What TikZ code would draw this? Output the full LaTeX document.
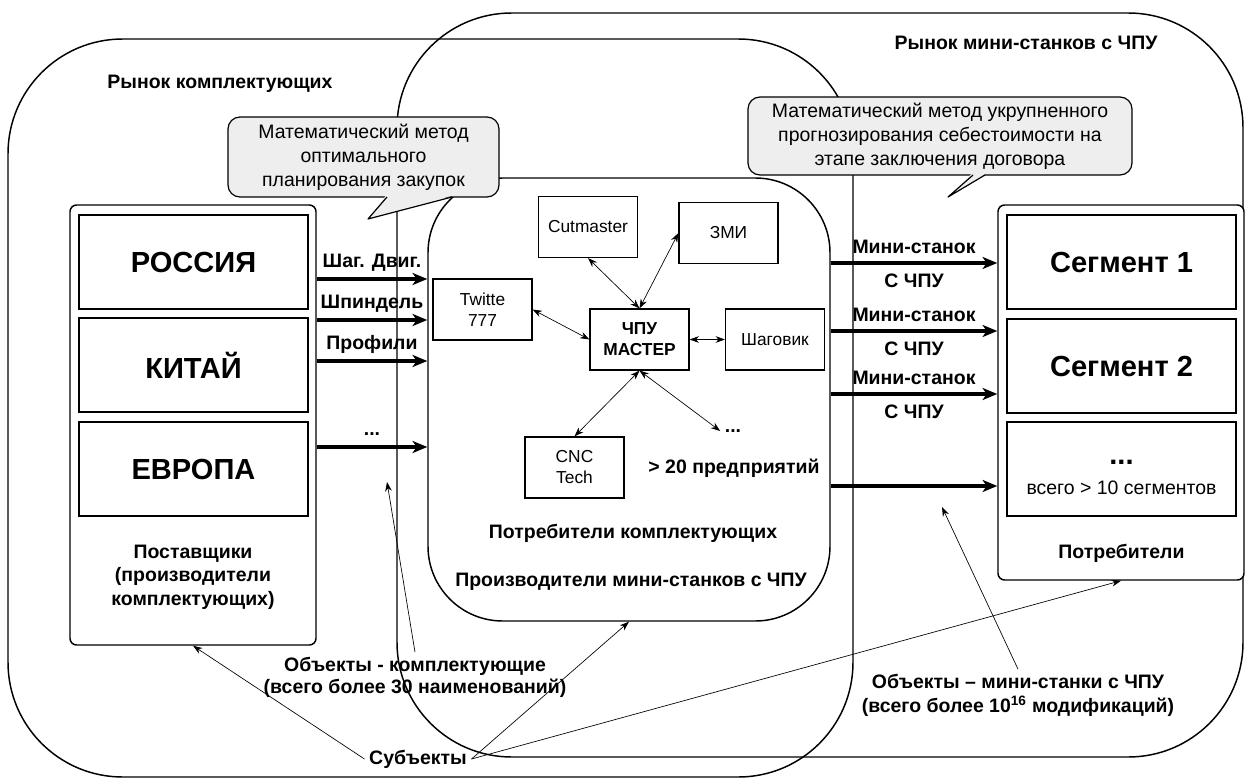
\documentclass[tikz,border=0pt]{standalone}
\usepackage{fontspec}
\setmainfont{Liberation Sans}
\usetikzlibrary{arrows.meta,positioning,calc}

\definecolor{calloutgray}{RGB}{238,238,238}

\begin{document}
\begin{tikzpicture}[x=0.75pt, y=-0.75pt,
    frame/.style={line width=1.1pt},
    panel/.style={draw, line width=1.1pt, rounded corners=5pt, fill=white},
    cell/.style={draw, line width=1.1pt, fill=white, minimum width=171.75pt, minimum height=70.5pt, font=\bfseries\fontsize{21.8}{25}\selectfont},
    firm/.style={draw, line width=0.9pt, fill=white, minimum width=74.25pt, minimum height=45.75pt, align=center, font=\fontsize{13}{15.75}\selectfont},
    lbl/.style={font=\bfseries\fontsize{14.6}{17.5}\selectfont, align=center},
    callout/.style={draw, line width=0.9pt, fill=calloutgray, rounded corners=9pt, align=center, font=\fontsize{14.6}{18}\selectfont, inner sep=0pt},
    flow/.style={line width=3pt, -{Stealth[length=11pt, width=9pt, inset=3pt]}},
    link/.style={line width=0.5pt, {Stealth[length=7pt, width=5pt]}-{Stealth[length=7pt, width=5pt]}},
    pointer/.style={line width=0.5pt, -{Stealth[length=7pt, width=5pt]}}]

    \useasboundingbox (0,0) rectangle (1246,778);

    % Markets
    \draw[frame, rounded corners=86pt] (8,39) rectangle (853,777);
    \draw[frame, rounded corners=86pt] (397,13) rectangle (1243,757);
    \node[lbl] (rkom) at (220,84) {Рынок комплектующих};
    \node[lbl] (rstan) at (1026,43) {Рынок мини-станков с ЧПУ};

    % Producers
    \node[draw, frame, rounded corners=56pt, minimum width=301.5pt, minimum height=332.25pt] (prod) at (629,399.5) {};

    % Suppliers
    \node[panel, minimum width=184.5pt, minimum height=330pt] (post) at (193,425) {};
    \node[cell] (rus) at (193.5,262) {РОССИЯ};
    \node[cell] (chn) at (193.5,365) {КИТАЙ};
    \node[cell] (eur) at (193.5,469) {ЕВРОПА};
    \node[lbl, font=\bfseries\fontsize{14.6}{17.6}\selectfont] (postlbl) at (193,577) {Поставщики\\(производители\\комплектующих)};

    % Consumers
    \node[panel, minimum width=184.5pt, minimum height=281.25pt] (potr) at (1121,392.5) {};
    \node[cell] (seg1) at (1121.5,262) {Сегмент 1};
    \node[cell] (seg2) at (1121.5,366) {Сегмент 2};
    \node[cell] (seg3) at (1121.5,469) {};
    \node[lbl, font=\bfseries\fontsize{21.8}{25}\selectfont] (seg3dots) at (1121.5,462) {...};
    \node[font=\fontsize{14.6}{17}\selectfont] (seg3txt) at (1121.5,488) {всего > 10 сегментов};
    \node[lbl] (potrlbl) at (1121.5,553) {Потребители};

    % Firms
    \node[firm] (cutm) at (588,227) {Cutmaster};
    \node[firm] (zmi) at (728.5,233) {ЗМИ};
    \node[firm] (twit) at (482.5,309.5) {Twitte\\777};
    \node[firm, font=\bfseries\fontsize{13}{15.75}\selectfont] (master) at (639.5,339.5) {ЧПУ\\МАСТЕР};
    \node[firm] (shag) at (775,339.5) {Шаговик};
    \node[firm] (cnct) at (574.5,467.5) {CNC\\Tech};
    \node[lbl] (mdots) at (733,431) {...};
    \node[lbl] (firmnum) at (734,468) {> 20 предприятий};
    \draw[link] (cutm.south) -- (master.north);
    \draw[link] (zmi.west) -- (master.north);
    \draw[link] (twit.east) -- (master.west);
    \draw[link] (master.east) -- (shag.west);
    \draw[link] (cnct.north) -- (master.south);
    \draw[link] (master.south) -- (mdots.west);
    \node[lbl] (potrk) at (633,533) {Потребители комплектующих};
    \node[lbl] (prodlbl) at (631,582) {Производители мини-станков с ЧПУ};

    % Flows
    \foreach \y/\lab in {279/{Шаг. Двиг.}, 320/{Шпиндель}, 361/{Профили}, 447/{...}}
        \draw[flow] (post.east |- 0,\y) -- (prod.west |- 0,\y)
            node[lbl, midway, anchor=base, yshift=8.5pt] (lk\y) {\lab};
    \foreach \y in {263,331,394}
        \draw[flow] (prod.east |- 0,\y) -- (potr.west |- 0,\y)
            node[lbl, midway, anchor=base, yshift=7pt] (ms\y) {Мини-станок}
            node[lbl, midway, anchor=base, yshift=-18.5pt] (cp\y) {С ЧПУ};
    \draw[flow] (prod.east |- 0,486) -- (potr.west |- 0,486);

    % Objects and subjects
    \coordinate (ptk) at (387,482);
    \coordinate (ptm) at (942,507);
    \node[lbl, font=\bfseries\fontsize{14.6}{16.5}\selectfont] (objk) at (415,677) {Объекты - комплектующие\\(всего более 30 наименований)};
    \node[lbl, font=\bfseries\fontsize{14.6}{18}\selectfont] (objm) at (1018,695) {Объекты – мини-станки с ЧПУ\\(всего более 10\textsuperscript{16} модификаций)};
    \node[lbl] (subj) at (418,759) {Субъекты};
    \draw[pointer] (objk.north) -- (ptk);
    \draw[pointer] (objm.north) -- (ptm);
    \draw[pointer] (subj.west) -- (post.south);
    \draw[pointer] (subj.east) -- (prod.south);
    \draw[pointer] (subj.east) -- (potr.south);

    % Callouts
    \node[callout, minimum width=203.25pt, minimum height=60pt] (mopt) at (363.5,157) {Математический метод\\оптимального\\планирования закупок};
    \fill[calloutgray] (386,195.5) -- (368,219) -- (453,195.5) -- cycle;
    \draw[line width=0.9pt, line join=round] (387,197) -- (368,219) -- (452,197);
    \node[callout, minimum width=288pt, minimum height=58.5pt] (mprog) at (940,136) {Математический метод укрупненного\\прогнозирования себестоимости на\\этапе заключения договора};
    \fill[calloutgray] (972,173.5) -- (948,197) -- (986,173.5) -- cycle;
    \draw[line width=0.9pt, line join=round] (973,175) -- (948,197) -- (985,175);
\end{tikzpicture}
\end{document}
